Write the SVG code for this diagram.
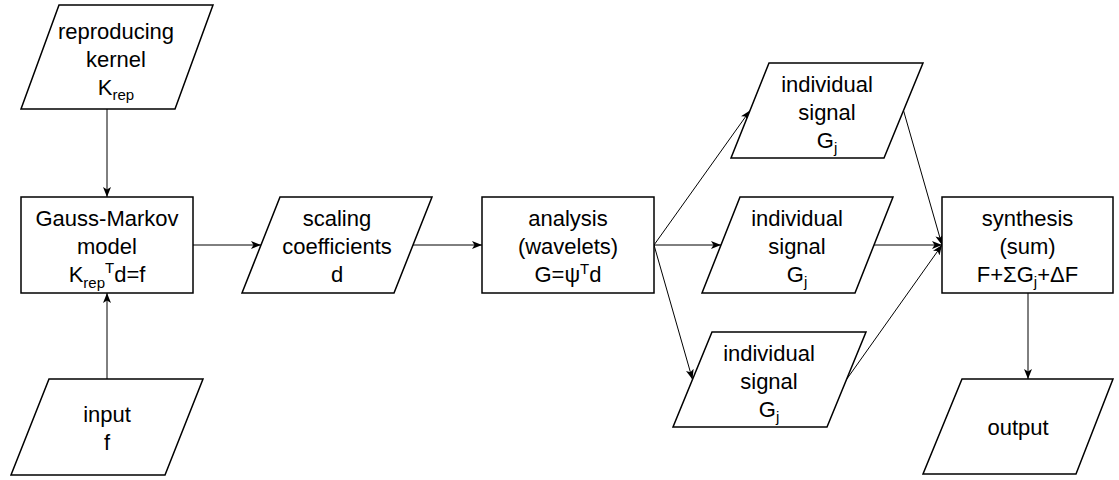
<svg xmlns="http://www.w3.org/2000/svg" width="1119" height="480" viewBox="0 0 1119 480">
<style>
.shape{fill:#fff;stroke:#000;stroke-width:1.5}
.edge{fill:none;stroke:#000;stroke-width:1}
text{font-family:"Liberation Sans",Arial,sans-serif;font-size:22px;fill:#000;text-anchor:middle}
.s{font-size:15px}
</style>
<defs>
<marker id="arr" markerWidth="11" markerHeight="8" refX="10" refY="4" orient="auto" markerUnits="userSpaceOnUse">
<path d="M0,0 L10,4 L0,8 L2.5,4 z" fill="#000"/>
</marker>
</defs>
<g id="connectors">
<line class="edge" x1="107" y1="109" x2="107" y2="197" marker-end="url(#arr)"/>
<line class="edge" x1="107" y1="379" x2="107" y2="293" marker-end="url(#arr)"/>
<line class="edge" x1="193" y1="245" x2="261" y2="245" marker-end="url(#arr)"/>
<line class="edge" x1="413" y1="245" x2="482" y2="245" marker-end="url(#arr)"/>
<line class="edge" x1="654" y1="245" x2="750" y2="110.5" marker-end="url(#arr)"/>
<line class="edge" x1="654" y1="245" x2="721" y2="245" marker-end="url(#arr)"/>
<line class="edge" x1="654" y1="245" x2="692.5" y2="379.5" marker-end="url(#arr)"/>
<line class="edge" x1="903.5" y1="110.5" x2="942" y2="245" marker-end="url(#arr)"/>
<line class="edge" x1="874" y1="245" x2="942" y2="245" marker-end="url(#arr)"/>
<line class="edge" x1="846.5" y1="379.5" x2="942" y2="245" marker-end="url(#arr)"/>
<line class="edge" x1="1028" y1="293" x2="1028" y2="379" marker-end="url(#arr)"/>
</g>
<g id="kernel">
<polygon class="shape" points="59,5 213,5 175,109 21,109"/>
<text x="116" y="39">reproducing</text>
<text x="116" y="67">kernel</text>
<text x="116" y="95">K<tspan class="s" dy="5">rep</tspan></text>
</g>
<g id="gauss-markov">
<rect class="shape" x="21" y="197" width="172" height="96"/>
<text x="107" y="226">Gauss-Markov</text>
<text x="107" y="254">model</text>
<text x="107" y="282">K<tspan class="s" dy="6">rep</tspan><tspan class="s" dy="-15">T</tspan><tspan dy="9">d=f</tspan></text>
</g>
<g id="input">
<polygon class="shape" points="49,379 203,379 165,475 11,475"/>
<text x="107" y="422">input</text>
<text x="107" y="450">f</text>
</g>
<g id="scaling">
<polygon class="shape" points="280,197 432,197 394,293 242,293"/>
<text x="337" y="226">scaling</text>
<text x="337" y="254">coefficients</text>
<text x="337" y="282">d</text>
</g>
<g id="analysis">
<rect class="shape" x="482" y="197" width="172" height="96"/>
<text x="568" y="226">analysis</text>
<text x="568" y="254">(wavelets)</text>
<text x="568" y="282">G=ψ<tspan class="s" dy="-8">T</tspan><tspan dy="8">d</tspan></text>
</g>
<g id="signal1">
<polygon class="shape" points="769,63 923,63 884,158 731,158"/>
<text x="827" y="92">individual</text>
<text x="827" y="120">signal</text>
<text x="827" y="148">G<tspan class="s" dy="5">j</tspan></text>
</g>
<g id="signal2">
<polygon class="shape" points="740,197 893,197 855,293 702,293"/>
<text x="797" y="226">individual</text>
<text x="797" y="254">signal</text>
<text x="797" y="282">G<tspan class="s" dy="5">j</tspan></text>
</g>
<g id="signal3">
<polygon class="shape" points="712,332 866,332 827,427 673,427"/>
<text x="769" y="361">individual</text>
<text x="769" y="389">signal</text>
<text x="769" y="417">G<tspan class="s" dy="5">j</tspan></text>
</g>
<g id="synthesis">
<rect class="shape" x="942" y="197" width="171" height="96"/>
<text x="1027.5" y="226">synthesis</text>
<text x="1027.5" y="254">(sum)</text>
<text x="1027.5" y="282">F+ΣG<tspan class="s" dy="5">j</tspan><tspan dy="-5">+ΔF</tspan></text>
</g>
<g id="output">
<polygon class="shape" points="962,379 1113,379 1076,474 923,474"/>
<text x="1018" y="435">output</text>
</g>
</svg>
